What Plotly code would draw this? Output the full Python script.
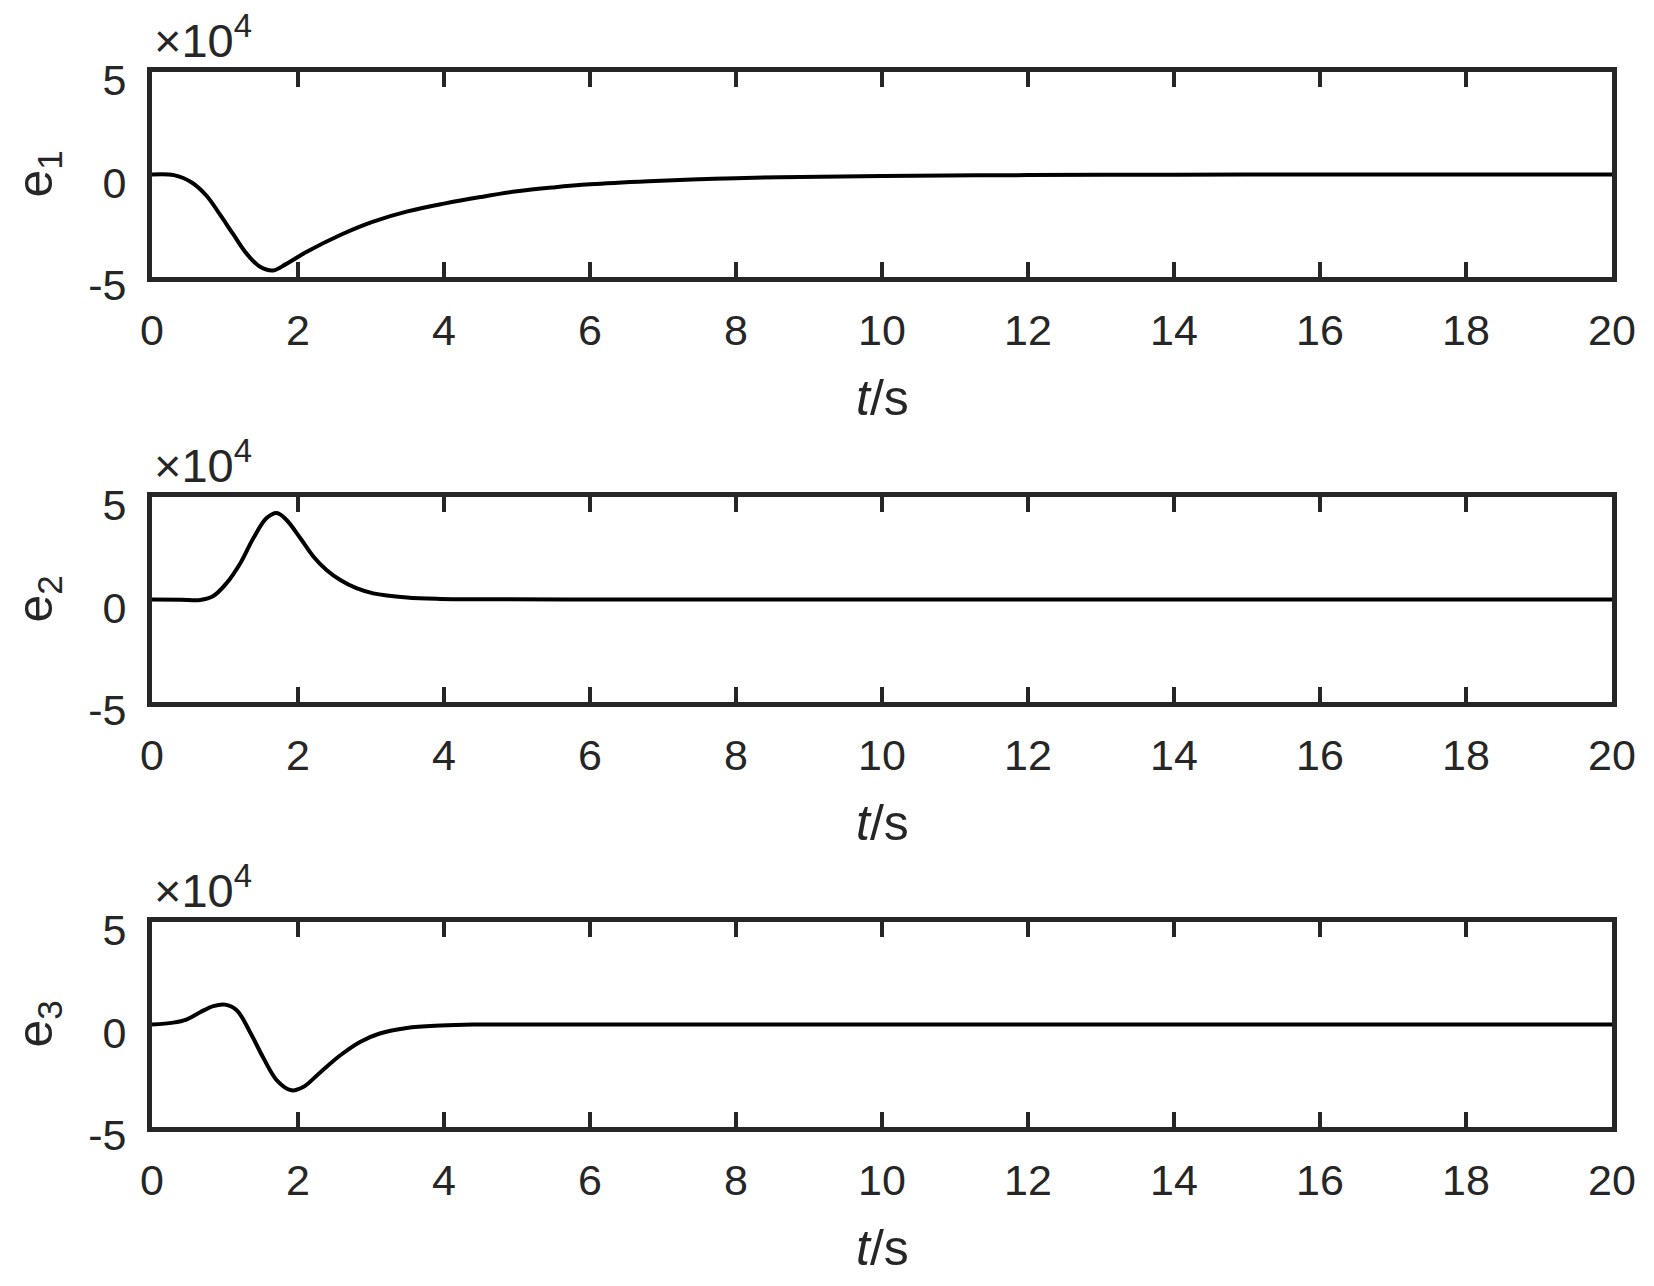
import plotly.graph_objects as go
from plotly.subplots import make_subplots

# error signals (time in s, value in raw units)
t1 = [0, 0.3, 0.55, 0.75, 0.93, 1.11, 1.3, 1.48, 1.66, 1.84, 2.12, 2.58, 3.03, 3.5,
      4.0, 4.5, 5.0, 5.5, 6.0, 6.8, 7.7, 8.6, 10, 12, 14, 16, 18, 20]
e1 = [0, -300, -4000, -10500, -19500, -29000, -38800, -45000, -46800, -43600, -37700,
      -29500, -23000, -18000, -14200, -11000, -8200, -6300, -4800, -3300, -2100, -1300,
      -700, -300, -100, 0, 0, 0]

t2 = [0, 0.4, 0.66, 0.84, 1.02, 1.21, 1.39, 1.57, 1.71, 1.84, 2.03, 2.21, 2.39, 2.58,
      2.8, 3.03, 3.49, 3.95, 4.5, 6, 8, 10, 12, 14, 16, 18, 20]
e2 = [0, -100, -200, 1700, 7900, 17700, 30000, 39700, 42200, 38900, 30000, 21000,
      14400, 9500, 5500, 3000, 1000, 300, 100, 0, 0, 0, 0, 0, 0, 0, 0]

t3 = [0, 0.29, 0.47, 0.66, 0.84, 1.0, 1.16, 1.34, 1.53, 1.71, 1.91, 2.07, 2.3, 2.58,
      2.85, 3.12, 3.49, 3.95, 4.4, 5, 6, 8, 10, 12, 14, 16, 18, 20]
e3 = [0, 900, 2400, 6000, 9000, 9700, 7000, -3500, -16600, -27200, -32100, -30500,
      -23500, -15000, -8500, -4400, -1700, -500, 0, 0, 0, 0, 0, 0, 0, 0, 0, 0]

series = [(t1, e1, "e<sub>1</sub>"), (t2, e2, "e<sub>2</sub>"), (t3, e3, "e<sub>3</sub>")]

x_ticks = list(range(0, 21, 2))
y_ticks = [-50000, 0, 50000]
y_ticktext = ["-5", "0", "5"]

# the page body keeps an 8px margin, so the figure is sized to fill the window exactly
BODY = 8
W, H = 1654 - 2 * BODY, 1286 - 2 * BODY
INK = "#262626"
FONT = "Liberation Sans, Arial, sans-serif"


def px_x(x):
    return (x - BODY) / W


def px_y(y):
    return 1 - (y - BODY) / H


# panel boxes in window pixels (top, bottom)
left_px, right_px = 152, 1612
panels_px = [(72, 277), (497, 702), (922, 1127)]

fig = make_subplots(rows=3, cols=1)

for i, (t, e, name) in enumerate(series, start=1):
    fig.add_trace(
        go.Scatter(x=t, y=e, mode="lines",
                   line=dict(color="black", width=4, shape="spline", smoothing=1.0),
                   showlegend=False),
        row=i, col=1,
    )

for i, (top, bot) in enumerate(panels_px, start=1):
    sfx = "" if i == 1 else str(i)
    fig.layout["xaxis" + sfx].update(
        domain=[px_x(left_px), px_x(right_px)],
        anchor="y" + sfx,
        range=[0, 20],
        tickvals=x_ticks,
        ticks="inside", ticklen=15, tickwidth=4, tickcolor=INK,
        showline=True, linewidth=5, linecolor=INK, mirror="ticks",
        showgrid=False, zeroline=False, automargin=False,
        tickfont=dict(family=FONT, size=43, color=INK),
        ticklabelstandoff=11,
    )
    fig.layout["yaxis" + sfx].update(
        domain=[px_y(bot), px_y(top)],
        anchor="x" + sfx,
        range=[-50000, 50000],
        tickvals=y_ticks, ticktext=y_ticktext,
        ticks="",
        showline=True, linewidth=5, linecolor=INK, mirror=True,
        showgrid=False, zeroline=False, automargin=False,
        tickfont=dict(family=FONT, size=43, color=INK),
        ticklabelstandoff=12, ticklabelshift=8,
    )

    # exponent marker
    fig.add_annotation(
        text="×10<sup>4</sup>", xref="paper", yref="paper",
        x=px_x(152), y=px_y(top - 3), xanchor="left", yanchor="bottom",
        showarrow=False, font=dict(family=FONT, size=47, color=INK),
    )
    # y label
    fig.add_annotation(
        text=series[i - 1][2], xref="paper", yref="paper",
        x=px_x(38), y=px_y((top + bot) / 2), xanchor="center", yanchor="middle",
        textangle=-90, showarrow=False, font=dict(family=FONT, size=50, color=INK),
    )
    # x label
    fig.add_annotation(
        text="<i>t</i>/s", xref="paper", yref="paper",
        x=px_x((left_px + right_px) / 2), y=px_y(bot + 121),
        xanchor="center", yanchor="middle",
        showarrow=False, font=dict(family=FONT, size=50, color=INK),
    )

fig.update_layout(
    width=W, height=H,
    margin=dict(l=0, r=0, t=0, b=0, pad=0, autoexpand=False),
    paper_bgcolor="white", plot_bgcolor="white",
    font=dict(family=FONT, color=INK),
)

fig.write_html("out.html")
